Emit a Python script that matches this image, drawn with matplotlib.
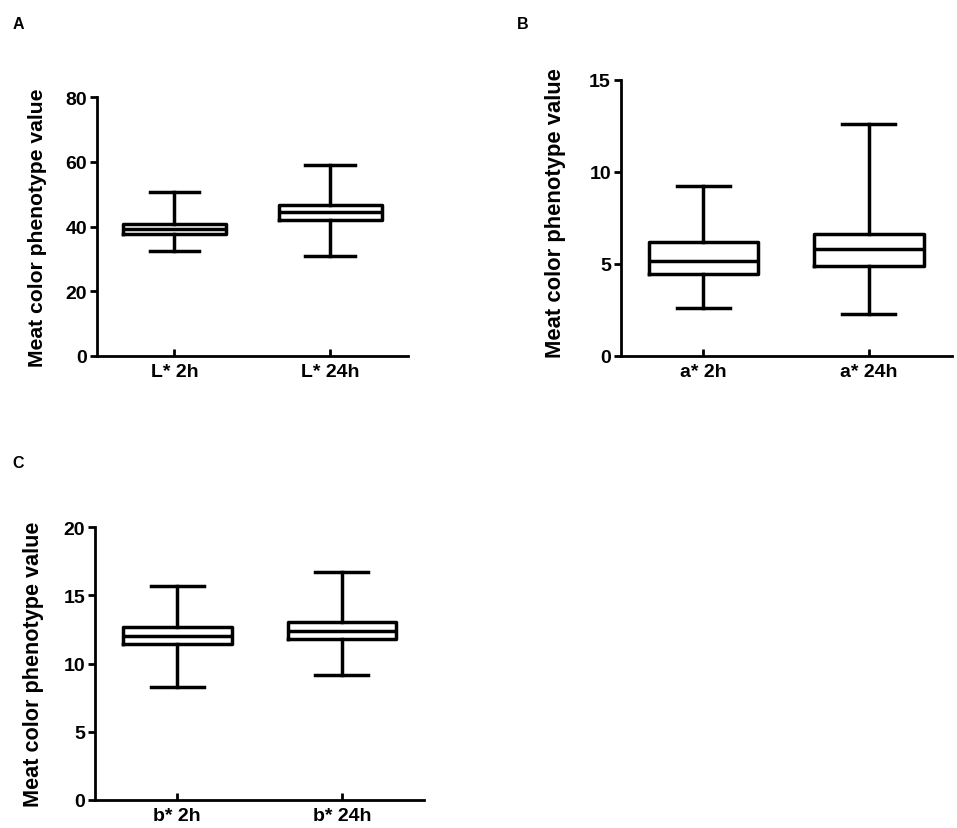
import matplotlib
matplotlib.use("Agg")
import matplotlib.pyplot as plt

plt.rcParams['font.family'] = ['Liberation Sans', 'DejaVu Sans']
plt.rcParams['font.weight'] = 'bold'

# box statistics: (low whisker, Q1, median, Q3, high whisker)
labels_a = ["L* 2h", "L* 24h"]
stats_a = [(32.3, 37.7, 39.3, 40.8, 50.8),
           (30.9, 41.9, 44.5, 46.6, 59.0)]

labels_b = ["a* 2h", "a* 24h"]
stats_b = [(2.6, 4.45, 5.15, 6.2, 9.2),
           (2.25, 4.9, 5.8, 6.6, 12.6)]

labels_c = ["b* 2h", "b* 24h"]
stats_c = [(8.3, 11.45, 12.05, 12.65, 15.7),
           (9.2, 11.8, 12.4, 13.05, 16.7)]

yticks_a = [0, 20, 40, 60, 80]
yticks_b = [0, 5, 10, 15]
yticks_c = [0, 5, 10, 15, 20]


def draw_panel(ax, stats, labels, yticks, ylab_size=15.5, ylab_pad=12):
    boxes = []
    for lo, q1, med, q3, hi in stats:
        boxes.append({'whislo': lo, 'q1': q1, 'med': med, 'q3': q3, 'whishi': hi, 'fliers': []})
    lw = 2.5
    ax.bxp(boxes, positions=[0, 1], widths=0.66, showfliers=False,
           boxprops=dict(color='black', linewidth=lw),
           medianprops=dict(color='black', linewidth=lw),
           whiskerprops=dict(color='black', linewidth=lw),
           capprops=dict(color='black', linewidth=lw),
           capwidths=0.32)
    ax.set_xlim(-0.5, 1.5)
    ax.set_ylim(yticks[0], yticks[-1])
    ax.set_yticks(yticks)
    ax.set_xticks([0, 1])
    ax.set_xticklabels(labels)
    for s in ['top', 'right']:
        ax.spines[s].set_visible(False)
    for s in ['left', 'bottom']:
        ax.spines[s].set_linewidth(2)
    ax.tick_params(axis='y', direction='out', length=5, width=2, labelsize=14, pad=2)
    ax.tick_params(axis='x', direction='in', length=5, width=2, labelsize=14, pad=5)
    for t in ax.get_xticklabels() + ax.get_yticklabels():
        t.set_fontweight('bold')
    ax.set_ylabel("Meat color phenotype value", fontsize=ylab_size, fontweight='bold',
                  labelpad=ylab_pad)


fig = plt.figure(figsize=(9.57, 8.29), dpi=100)

ax_a = fig.add_axes([0.101, 0.5697, 0.3253, 0.3117])
draw_panel(ax_a, stats_a, labels_a, yticks_a, 15.2, 13)

ax_b = fig.add_axes([0.6486, 0.5697, 0.3459, 0.3329])
draw_panel(ax_b, stats_b, labels_b, yticks_b, 15.8, 17)
ax_b.yaxis.label.set_y(0.52)

ax_c = fig.add_axes([0.0993, 0.0338, 0.3438, 0.329])
draw_panel(ax_c, stats_c, labels_c, yticks_c, 15.6, 14)

fig.text(13 / 957, 1 - 29 / 829, "A", fontsize=11.5, fontweight='bold')
fig.text(517 / 957, 1 - 29 / 829, "B", fontsize=11.5, fontweight='bold')
fig.text(12 / 957, 1 - 468 / 829, "C", fontsize=11.5, fontweight='bold')

fig.savefig("out.png", dpi=100)
